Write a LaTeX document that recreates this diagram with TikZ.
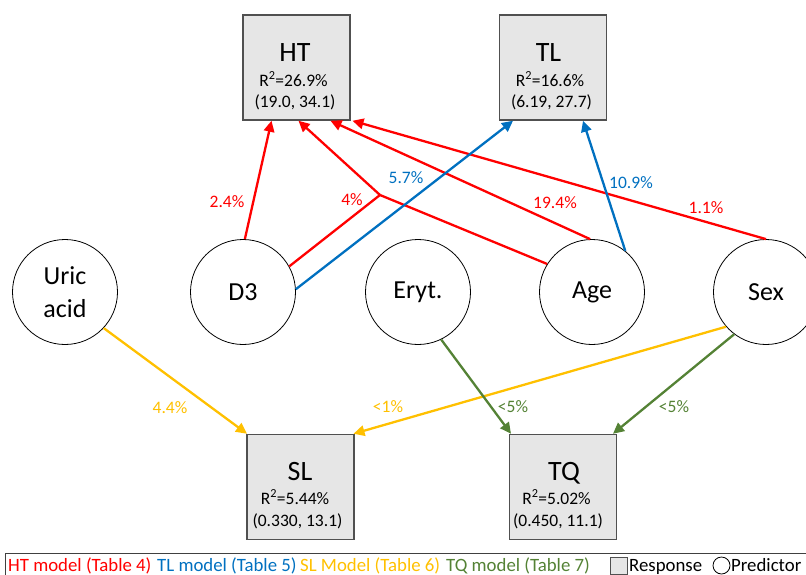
\documentclass[tikz,border=0pt]{standalone}
\usepackage{fontspec}
\setmainfont{Carlito}
\usetikzlibrary{arrows.meta}
\definecolor{htred}{RGB}{255,0,0}
\definecolor{tlblue}{RGB}{0,112,192}
\definecolor{slgold}{RGB}{255,192,0}
\definecolor{tqgreen}{RGB}{84,130,53}
\definecolor{boxfill}{RGB}{230,230,230}
\definecolor{boxline}{RGB}{80,80,80}

\begin{document}
\begin{tikzpicture}[x=1pt,y=-1pt,
  response/.style={draw=boxline, line width=1.5pt, fill=boxfill,
    minimum width=107pt, minimum height=105pt, inner sep=0pt},
  predictor/.style={circle, draw=black, line width=0.8pt, minimum size=105pt,
    inner sep=0pt, align=center, font=\fontsize{26}{33}\selectfont},
  boxtitle/.style={anchor=base, inner sep=0pt, font=\fontsize{28}{30}\selectfont},
  boxline/.style={anchor=base, inner sep=0pt, font=\fontsize{17.5}{20}\selectfont},
  lbl/.style={inner sep=0pt, font=\fontsize{17.5}{20}\selectfont},
  wire/.style={line width=2.3pt},
  link/.style={wire, -{Triangle[length=11pt,width=10.5pt]}},
  legtext/.style={anchor=base west, inner sep=0pt, font=\fontsize{18.8}{20}\selectfont}
]
\useasboundingbox (0,0) rectangle (806,574);

% response boxes
\node[response] (HT) at (296.5,67.5) {};
\node[response] (TL) at (553,67.5) {};
\node[response] (SL) at (300.5,487) {};
\node[response] (TQ) at (563,487) {};

\node[boxtitle] (HTname) at (295,61) {HT};
\node[boxline] (HTr) at (293.5,86) {R\textsuperscript{2}=26.9\%};
\node[boxline] (HTci) at (295,107) {(19.0, 34.1)};

\node[boxtitle] (TLname) at (548.5,61) {TL};
\node[boxline] (TLr) at (550,86) {R\textsuperscript{2}=16.6\%};
\node[boxline] (TLci) at (551.5,107) {(6.19, 27.7)};

\node[boxtitle] (SLname) at (300,480) {SL};
\node[boxline] (SLr) at (295,504) {R\textsuperscript{2}=5.44\%};
\node[boxline] (SLci) at (297.5,526) {(0.330, 13.1)};

\node[boxtitle] (TQname) at (564,480) {TQ};
\node[boxline] (TQr) at (556.5,504) {R\textsuperscript{2}=5.02\%};
\node[boxline] (TQci) at (558,526) {(0.450, 11.1)};

% predictors
\node[predictor] (Uric) at (65,292) {Uric\\acid};
\node[predictor] (D3) at (243,292) {D3};
\node[predictor] (Eryt) at (418,292) {Eryt.};
\node[predictor] (Age) at (592,292) {Age};
\node[predictor] (Sex) at (766,292) {Sex};

% interaction point of D3 and Age
\coordinate (J) at (380,195);

% HT model
\draw[link, htred] (D3.88) -- ([xshift=-25pt]HT.south);
\draw[wire, htred] (D3.29) -- (J);
\draw[wire, htred] (Age.148) -- (J);
\draw[link, htred] (J) -- ([xshift=2pt]HT.south);
\draw[link, htred] (Age.92) -- ([xshift=34pt]HT.south);
\draw[link, htred] (Sex.90) -- ([xshift=56pt]HT.south);

% TL model
\draw[link, tlblue] (D3.3) -- ([xshift=-40pt]TL.south);
\draw[link, tlblue] (Age.51) -- ([xshift=30pt]TL.south);

% SL model
\draw[link, slgold] (Uric.-43) -- ([xshift=-53.5pt]SL.north);
\draw[link, slgold] (Sex.221) -- ([xshift=53pt]SL.north);

% TQ model
\draw[link, tqgreen] (Eryt.-64) -- ([xshift=-52pt]TQ.north);
\draw[link, tqgreen] (Sex.233) -- ([xshift=50pt]TQ.north);

% effect sizes
\node[lbl, text=htred] (l1) at (227,202) {2.4\%};
\node[lbl, text=htred] (l2) at (352,200) {4\%};
\node[lbl, text=tlblue] (l3) at (406,178) {5.7\%};
\node[lbl, text=htred] (l4) at (555,203) {19.4\%};
\node[lbl, text=tlblue] (l5) at (631,183) {10.9\%};
\node[lbl, text=htred] (l6) at (706,208) {1.1\%};
\node[lbl, text=slgold] (l7) at (170,408) {4.4\%};
\node[lbl, text=slgold] (l8) at (388,407) {<1\%};
\node[lbl, text=tqgreen] (l9) at (513,407) {<5\%};
\node[lbl, text=tqgreen] (l10) at (674,407) {<5\%};

% legend
\draw[draw=black!75, line width=0.8pt] (5,553) rectangle (815,590);
\node[legtext, text=htred] (legHT) at (8,571) {HT model (Table 4)};
\node[legtext, text=tlblue] (legTL) at (157,571) {TL model (Table 5)};
\node[legtext, text=slgold] (legSL) at (300,571) {SL Model (Table 6)};
\node[legtext, text=tqgreen] (legTQ) at (446,571) {TQ model (Table 7)};
\draw[draw=boxline, line width=0.8pt, fill=boxfill] (610,557) rectangle (627,574);
\node[legtext] (legResp) at (629,571) {Response};
\draw[draw=black, line width=0.8pt] (721.5,565.5) circle[radius=8.5pt];
\node[legtext] (legPred) at (731,571) {Predictor};
\end{tikzpicture}
\end{document}
